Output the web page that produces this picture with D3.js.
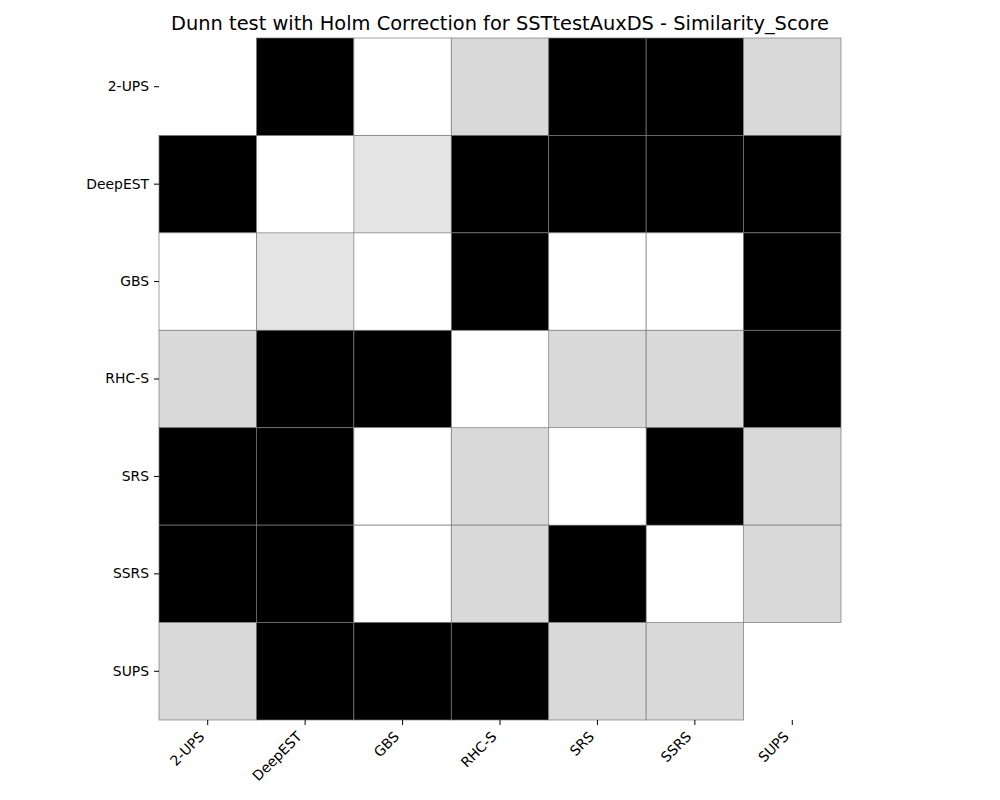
<!DOCTYPE html>
<html>
<head>
<meta charset="utf-8">
<script src="https://cdn.jsdelivr.net/npm/d3@7"></script>
<style>
  body { margin: 0; background: #fff; }
  text { font-family: "DejaVu Sans", sans-serif; }
</style>
</head>
<body>
<svg width="1000" height="800"></svg>
<script>
// groups compared, same order on both axes
const groups = ['2-UPS', 'DeepEST', 'GBS', 'RHC-S', 'SRS', 'SSRS', 'SUPS'];
// cell classes per row: -1 diagonal (not drawn), 0 white, 1 black, 2 grey, 3 light grey
const row2UPS   = [-1, 1, 0, 2, 1, 1, 2];
const rowDeepEST = [1, -1, 3, 1, 1, 1, 1];
const rowGBS    = [0, 3, -1, 1, 0, 0, 1];
const rowRHCS   = [2, 1, 1, -1, 2, 2, 1];
const rowSRS    = [1, 1, 0, 2, -1, 1, 2];
const rowSSRS   = [1, 1, 0, 2, 1, -1, 2];
const rowSUPS   = [2, 1, 1, 1, 2, 2, -1];
const matrix = [row2UPS, rowDeepEST, rowGBS, rowRHCS, rowSRS, rowSSRS, rowSUPS];
const classColors = ['#ffffff', '#000000', '#d9d9d9', '#e4e4e4'];

const margin = { left: 159, top: 38, right: 159, bottom: 80 };
const size = 682;

const svg = d3.select('svg');
const g = svg.append('g').attr('transform', `translate(${margin.left},${margin.top})`);

const x = d3.scaleBand().domain(groups).range([0, size]);
const y = d3.scaleBand().domain(groups).range([0, size]);

// flatten to cells
const cells = [];
matrix.forEach((row, i) => {
  row.forEach((v, j) => {
    if (v >= 0) cells.push({ r: groups[i], c: groups[j], v: v });
  });
});

g.selectAll('.cell')
  .data(cells)
  .enter()
  .append('rect')
  .attr('class', 'cell')
  .attr('x', d => x(d.c))
  .attr('y', d => y(d.r))
  .attr('width', x.bandwidth())
  .attr('height', y.bandwidth())
  .attr('fill', d => classColors[d.v])
  .attr('stroke', '#7a7a7a')
  .attr('stroke-width', 0.7);

// axes
const xAxis = g.append('g')
  .attr('transform', `translate(0,${size})`)
  .call(d3.axisBottom(x).tickSize(5).tickPadding(4));
xAxis.select('.domain').remove();
// rotated labels, right end hangs just under the tick
xAxis.selectAll('text')
  .attr('font-size', 13.9)
  .attr('fill', '#000')
  .attr('text-anchor', 'end')
  .attr('x', 0)
  .attr('y', 0)
  .attr('dy', 0)
  .attr('transform', 'translate(-2.5,17.5) rotate(-45)');
xAxis.selectAll('line').attr('stroke', '#000');

const yAxis = g.append('g')
  .call(d3.axisLeft(y).tickSize(5).tickPadding(5));
yAxis.select('.domain').remove();
yAxis.selectAll('text').attr('font-size', 13.9).attr('fill', '#000');
yAxis.selectAll('line').attr('stroke', '#000');

svg.append('text')
  .attr('x', margin.left + size / 2)
  .attr('y', 30)
  .attr('text-anchor', 'middle')
  .attr('font-size', 19.4)
  .text('Dunn test with Holm Correction for SSTtestAuxDS - Similarity_Score');
</script>
</body>
</html>
